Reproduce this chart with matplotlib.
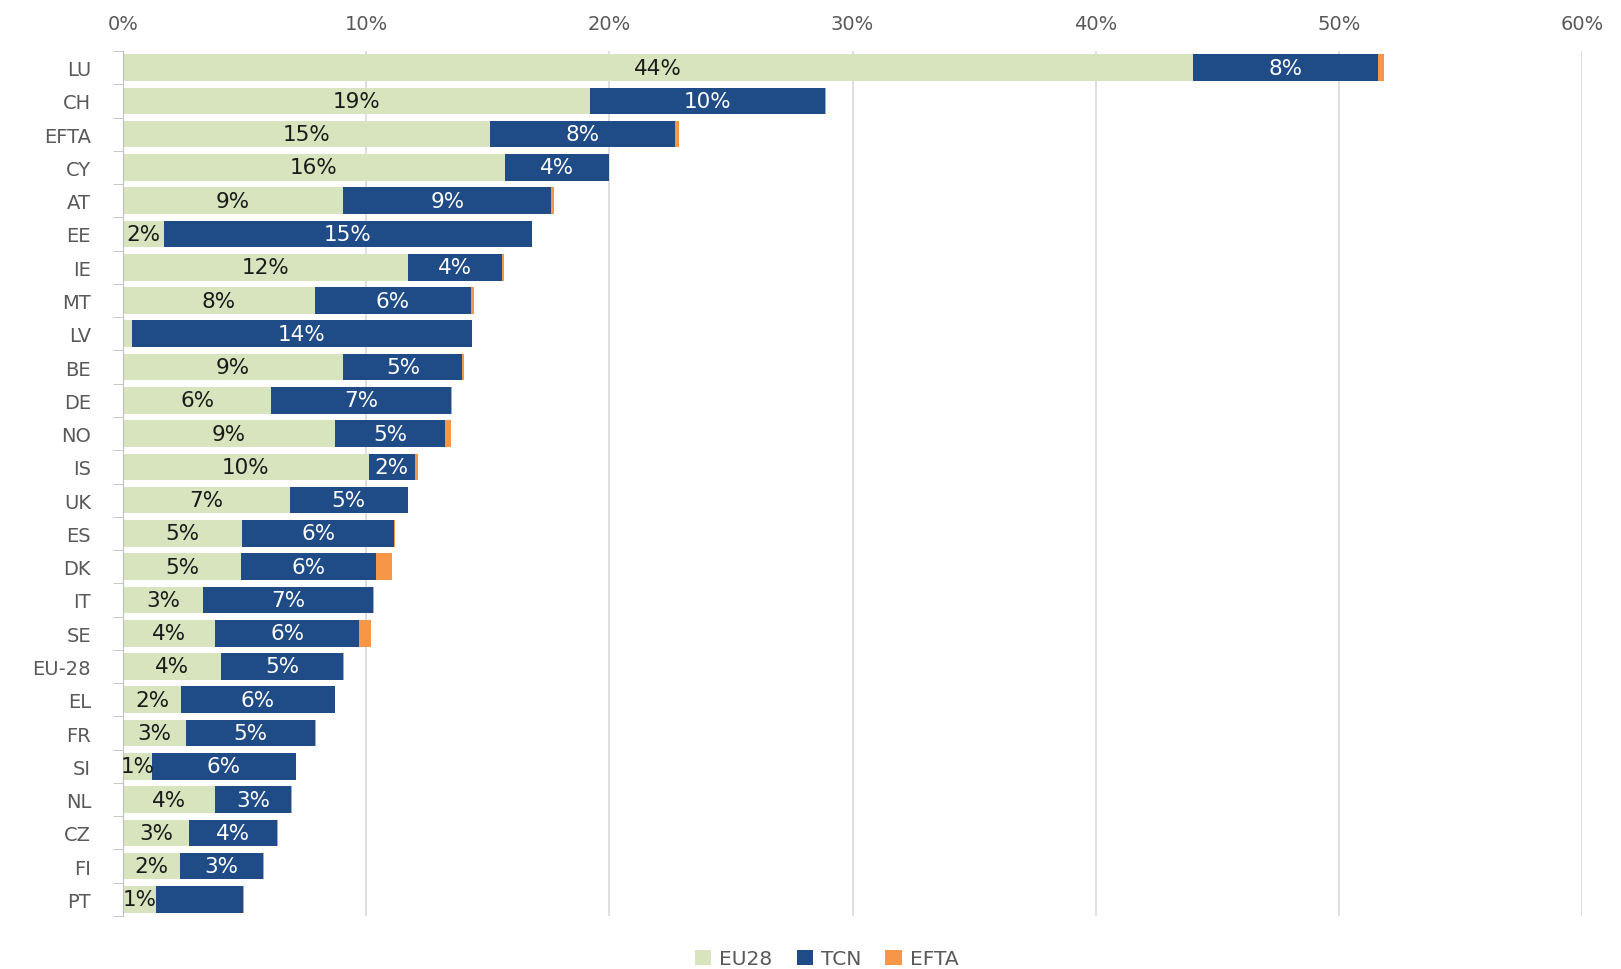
import matplotlib.pyplot as plt
import numpy as np

plt.rcParams['font.family'] = ['DejaVu Sans']

countries = ['LU', 'CH', 'EFTA', 'CY', 'AT', 'EE', 'IE', 'MT', 'LV', 'BE', 'DE', 'NO', 'IS',
             'UK', 'ES', 'DK', 'IT', 'SE', 'EU-28', 'EL', 'FR', 'SI', 'NL', 'CZ', 'FI', 'PT']

# shares of population, in %
eu28 = [44.0, 19.2, 15.1, 15.7, 9.06, 1.7, 11.7, 7.9, 0.35, 9.06, 6.1, 8.7, 10.1,
        6.85, 4.9, 4.85, 3.3, 3.8, 4.05, 2.4, 2.6, 1.2, 3.8, 2.7, 2.35, 1.35]
tcn = [7.6, 9.65, 7.6, 4.3, 8.55, 15.1, 3.9, 6.4, 14.0, 4.9, 7.4, 4.55, 1.9,
       4.85, 6.25, 5.55, 7.0, 5.9, 5.0, 6.3, 5.3, 5.9, 3.1, 3.65, 3.4, 3.6]
efta = [0.25, 0.05, 0.15, 0.0, 0.13, 0.0, 0.05, 0.13, 0.0, 0.05, 0.05, 0.25, 0.13,
        0.03, 0.03, 0.65, 0.03, 0.5, 0.05, 0.03, 0.05, 0.03, 0.03, 0.03, 0.03, 0.03]

# data labels as shown (PT has no TCN label)
eu28_labels = ['44%', '19%', '15%', '16%', '9%', '2%', '12%', '8%', '', '9%', '6%', '9%', '10%',
               '7%', '5%', '5%', '3%', '4%', '4%', '2%', '3%', '1%', '4%', '3%', '2%', '1%']
tcn_labels = ['8%', '10%', '8%', '4%', '9%', '15%', '4%', '6%', '14%', '5%', '7%', '5%', '2%',
              '5%', '6%', '6%', '7%', '6%', '5%', '6%', '5%', '6%', '3%', '4%', '3%', '']

c_eu = '#D7E4BD'
c_tcn = '#1F4B87'
c_efta = '#F79646'

fig = plt.figure(figsize=(16.21, 9.70), dpi=100)
ax = fig.add_axes([123 / 1621, 1 - 917 / 970, (1582 - 123) / 1621, (917 - 52) / 970])

y = np.arange(len(countries))
eu28 = np.array(eu28)
tcn = np.array(tcn)
efta = np.array(efta)

ax.barh(y, eu28, height=0.8, color=c_eu, label='EU28', zorder=2)
ax.barh(y, tcn, left=eu28, height=0.8, color=c_tcn, label='TCN', zorder=2)
ax.barh(y, efta, left=eu28 + tcn, height=0.8, color=c_efta, label='EFTA', zorder=2)

for i in range(len(countries)):
    if eu28_labels[i]:
        ax.text(eu28[i] / 2, y[i], eu28_labels[i], ha='center', va='center',
                fontsize=15.5, color='#1a1a1a', zorder=3)
    if tcn_labels[i]:
        ax.text(eu28[i] + tcn[i] / 2, y[i], tcn_labels[i], ha='center', va='center',
                fontsize=15.5, color='white', zorder=3)

ax.set_xlim(0, 60)
ax.set_ylim(len(countries) - 0.5, -0.5)
ax.set_xticks(np.arange(0, 61, 10))
ax.set_xticklabels([f'{v}%' for v in range(0, 61, 10)])
ax.xaxis.tick_top()
ax.tick_params(axis='x', length=0, pad=13, labelsize=14, labelcolor='#595959')

ax.set_yticks(y)
ax.set_yticklabels(countries)
ax.tick_params(axis='y', which='major', length=0, pad=23, labelsize=14, labelcolor='#595959')
ax.set_yticks(np.arange(-0.5, len(countries)), minor=True)
ax.tick_params(axis='y', which='minor', length=7, color='#bfbfbf', direction='out')

ax.grid(axis='x', color='#d9d9d9', linewidth=1.2, zorder=0)
for s in ['top', 'right', 'bottom']:
    ax.spines[s].set_visible(False)
ax.spines['left'].set_color('#bfbfbf')

fig.legend(loc='lower center', bbox_to_anchor=(0.51, -0.018), ncol=3, frameon=False,
           fontsize=14.5, labelcolor='#595959', handlelength=0.8, handleheight=0.8,
           handletextpad=0.4, columnspacing=1.2)

fig.savefig('out.png', dpi=100)
